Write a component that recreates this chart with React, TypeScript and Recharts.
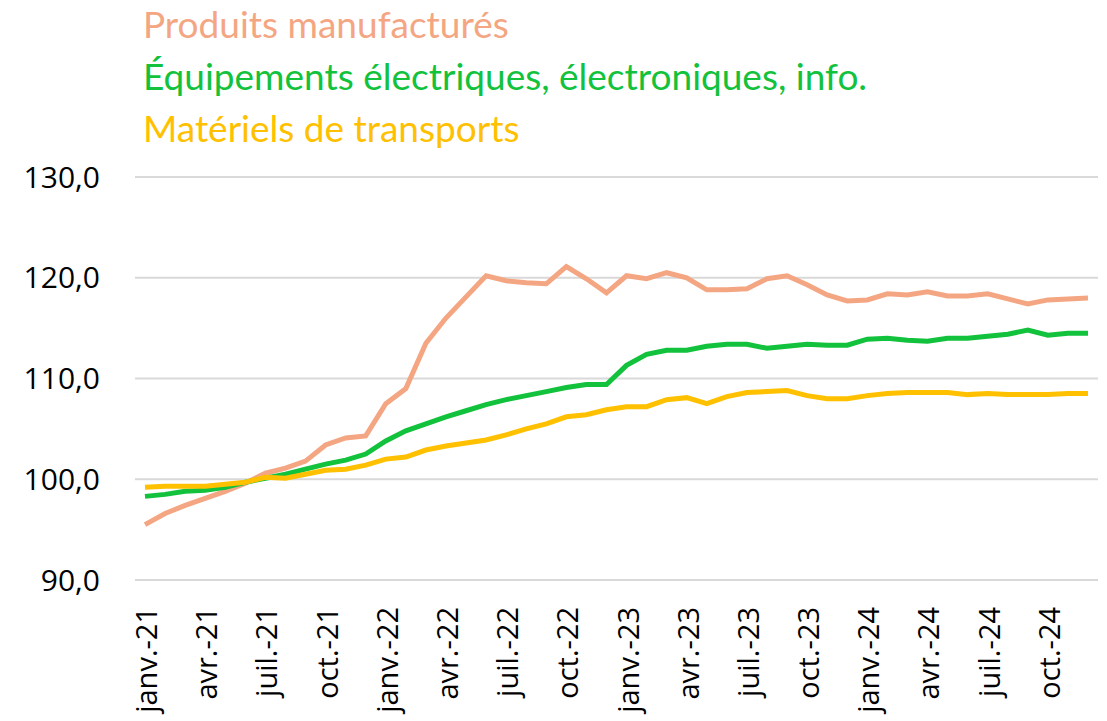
import { CartesianGrid, Line, LineChart, XAxis, YAxis } from 'recharts';

const months = ['janv.', 'févr.', 'mars', 'avr.', 'mai', 'juin', 'juil.', 'août', 'sept.', 'oct.', 'nov.', 'déc.'];
const years = ['21', '22', '23', '24'];
const categories = years.flatMap((y) => months.map((m) => `${m}-${y}`));

const manufactures = [
  95.5, 96.6, 97.4, 98.1, 98.8, 99.6, 100.6, 101.1, 101.8, 103.4, 104.1, 104.3,
  107.5, 109.0, 113.5, 116.0, 118.1, 120.2, 119.7, 119.5, 119.4, 121.1, 119.9, 118.5,
  120.2, 119.9, 120.5, 120.0, 118.8, 118.8, 118.9, 119.9, 120.2, 119.3, 118.3, 117.7,
  117.8, 118.4, 118.3, 118.6, 118.2, 118.2, 118.4, 117.9, 117.4, 117.8, 117.9, 118.0,
];
const equipements = [
  98.3, 98.5, 98.8, 98.9, 99.2, 99.7, 100.1, 100.5, 101.0, 101.5, 101.9, 102.5,
  103.8, 104.8, 105.5, 106.2, 106.8, 107.4, 107.9, 108.3, 108.7, 109.1, 109.4, 109.4,
  111.3, 112.4, 112.8, 112.8, 113.2, 113.4, 113.4, 113.0, 113.2, 113.4, 113.3, 113.3,
  113.9, 114.0, 113.8, 113.7, 114.0, 114.0, 114.2, 114.4, 114.8, 114.3, 114.5, 114.5,
];
const transports = [
  99.2, 99.3, 99.3, 99.3, 99.5, 99.7, 100.2, 100.1, 100.5, 100.9, 101.0, 101.4,
  102.0, 102.2, 102.9, 103.3, 103.6, 103.9, 104.4, 105.0, 105.5, 106.2, 106.4, 106.9,
  107.2, 107.2, 107.9, 108.1, 107.5, 108.2, 108.6, 108.7, 108.8, 108.3, 108.0, 108.0,
  108.3, 108.5, 108.6, 108.6, 108.6, 108.4, 108.5, 108.4, 108.4, 108.4, 108.5, 108.5,
];
const yTicks = [90, 100, 110, 120, 130];

const series = [
  { key: 'manufactures', name: 'Produits manufacturés', color: '#F4A683' },
  { key: 'equipements', name: 'Équipements électriques, électroniques, info.', color: '#12C23C' },
  { key: 'transports', name: 'Matériels de transports', color: '#FFC000' },
];

const data = categories.map((month, i) => ({
  month,
  manufactures: manufactures[i],
  equipements: equipements[i],
  transports: transports[i],
}));

const fmt = (v: number) => v.toFixed(1).replace('.', ',');
const font = "'Open Sans', sans-serif";

function XTick({ x, y, payload }: any) {
  return (
    <text
      transform={`translate(${x + 12},${y + 19}) rotate(-90)`}
      textAnchor="end"
      fill="#000"
      fontSize={29}
      fontFamily={font}
    >
      {payload.value}
    </text>
  );
}

export default function App() {
  return (
    <div style={{ position: 'absolute', left: 0, top: 0, width: 1107, height: 721, background: '#fff' }}>
      <div
        style={{
          position: 'absolute',
          left: 143,
          top: -2,
          fontFamily: 'Lato, sans-serif',
          fontSize: 37,
          lineHeight: '52px',
          whiteSpace: 'nowrap',
        }}
      >
        {series.map((s) => (
          <div key={s.key} style={{ color: s.color }}>
            {s.name}
          </div>
        ))}
      </div>
      <LineChart width={1107} height={721} data={data} margin={{ top: 177, right: 9, left: 0, bottom: 0 }}>
        <CartesianGrid vertical={false} stroke="#d9d9d9" strokeWidth={2} />
        <XAxis
          dataKey="month"
          interval={2}
          tick={<XTick />}
          tickLine={false}
          axisLine={{ stroke: '#d9d9d9', strokeWidth: 2 }}
          padding={{ left: 10, right: 10 }}
          height={141}
        />
        <YAxis
          domain={[90, 130]}
          ticks={yTicks}
          tickFormatter={fmt}
          tick={{ fill: '#000', fontSize: 30, fontFamily: font }}
          axisLine={false}
          tickLine={false}
          width={135}
          tickMargin={29}
        />
        {series.map((s) => (
          <Line
            key={s.key}
            dataKey={s.key}
            name={s.name}
            stroke={s.color}
            strokeWidth={5}
            dot={false}
            type="linear"
            isAnimationActive={false}
          />
        ))}
      </LineChart>
    </div>
  );
}
